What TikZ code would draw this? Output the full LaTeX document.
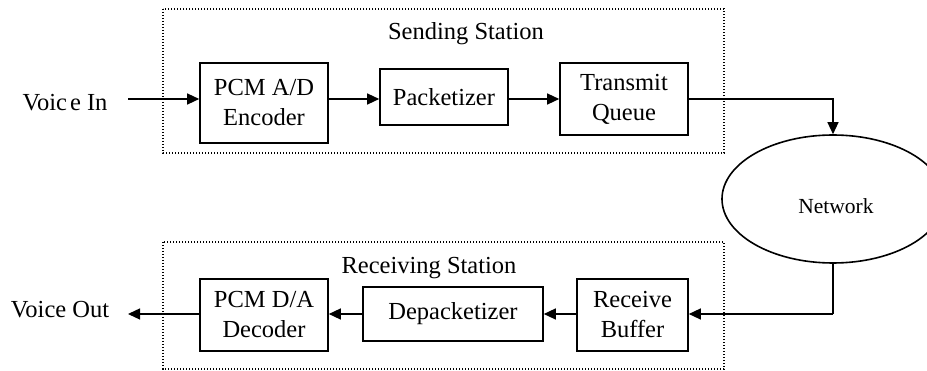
\documentclass[tikz,border=0pt]{standalone}
\usepackage{fontspec}
\setmainfont{Liberation Serif}
\usetikzlibrary{arrows.meta,shapes.geometric}

\tikzset{
  block/.style={draw, line width=1.6pt, inner sep=0pt, align=center,
    font=\fontsize{24.5}{30}\selectfont},
  station/.style={draw, line width=1.3pt, dash pattern=on 1.3pt off 1.7pt},
  label/.style={inner sep=0pt, font=\fontsize{24.5}{30}\selectfont},
  flow/.style={line width=1.3pt, -{Triangle[length=12pt,width=11pt]}},
  wire/.style={line width=1.3pt}
}

\begin{document}
\begin{tikzpicture}[x=1pt,y=-1pt]
  \useasboundingbox (0,0) rectangle (927,371);

  % station frames
  \draw[station] (163,9) rectangle (724,153);
  \draw[station] (163,242) rectangle (724,369);
  \node[label] (sendlbl) at (466,34) {Sending Station};
  \node[label] (recvlbl) at (429,268) {Receiving Station};

  % sending chain
  \node[block, minimum width=128pt, minimum height=80pt] (enc) at (264,103) {PCM A/D\\Encoder};
  \node[block, minimum width=128pt, minimum height=56pt] (pack) at (444,97) {Packetizer};
  \node[block, minimum width=128pt, minimum height=72pt] (tq) at (624,99) {Transmit\\Queue};

  % receiving chain
  \node[block, minimum width=128pt, minimum height=72pt] (dec) at (264,315) {PCM D/A\\Decoder};
  \node[block, minimum width=180pt, minimum height=54pt] (depack) at (453,314) {Depacketizer};
  \node[block, minimum width=111pt, minimum height=72pt] (rb) at (632.5,315) {Receive\\Buffer};

  % network cloud
  \node[draw, ellipse, line width=1.6pt, minimum width=222pt, minimum height=128pt, inner sep=0pt] (net) at (833,199) {};
  \node[inner sep=0pt, font=\fontsize{21.5}{26}\selectfont] (netlbl) at (836,206) {Network};

  % outside labels
  \node[label] (vin) at (65,103) {Voic\kern3pt e In};
  \node[label] (vout) at (60,310) {Voice Out};

  % row levels
  \coordinate (top) at (0,99);
  \coordinate (bot) at (0,314);
  \coordinate (vinend) at (128,99);
  \coordinate (voutend) at (128,314);
  \coordinate (tqturn) at (833,99);
  \coordinate (rbturn) at (833,314);

  % sending flow
  \draw[flow] (vinend) -- (enc.west |- top);
  \draw[flow] (enc.east |- top) -- (pack.west |- top);
  \draw[flow] (pack.east |- top) -- (tq.west |- top);
  \draw[flow] (tq.east |- top) -- (tqturn) -- (net.north);

  % receiving flow
  \draw[wire] (net.south) -- (rbturn);
  \draw[flow] (rbturn) -- (rb.east |- bot);
  \draw[flow] (rb.west |- bot) -- (depack.east |- bot);
  \draw[flow] (depack.west |- bot) -- (dec.east |- bot);
  \draw[flow] (dec.west |- bot) -- (voutend);
\end{tikzpicture}
\end{document}
